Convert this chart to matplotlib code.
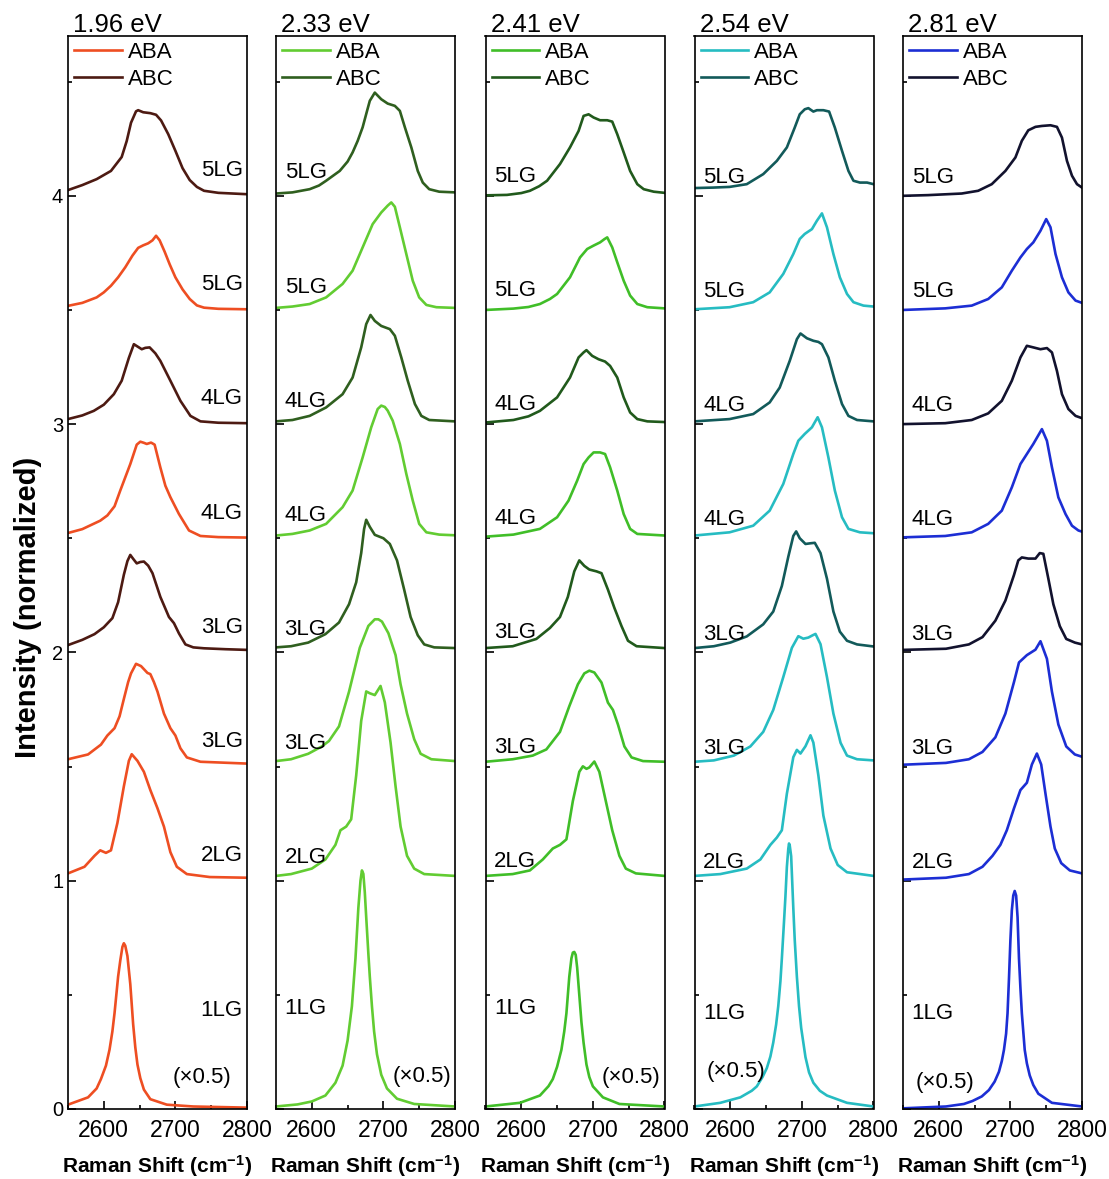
import matplotlib
matplotlib.use("Agg")
import matplotlib.pyplot as plt
from matplotlib.ticker import MultipleLocator

plt.rcParams["font.family"] = ["Liberation Sans", "DejaVu Sans"]
plt.rcParams["mathtext.default"] = "regular"

# laser energies and colours per panel
energies = ["1.96 eV", "2.33 eV", "2.41 eV", "2.54 eV", "2.81 eV"]
aba_colors = ["#EE4E22", "#62CC32", "#40BE28", "#26BCC2", "#1C2ED4"]
abc_colors = ["#4D1A12", "#2F5F1F", "#215A1C", "#125A5A", "#12122E"]

# stacking: ABA 1LG..5LG, ABC 3LG..5LG
aba_layers = ["1LG", "2LG", "3LG", "4LG", "5LG"]
aba_offsets = [0.0, 1.0, 1.5, 2.5, 3.5]
abc_layers = ["3LG", "4LG", "5LG"]
abc_offsets = [2.0, 3.0, 4.0]

# spectra: (Raman shift, intensity above own baseline)
aba_196 = [
    [(2550, 0.019), (2578, 0.051), (2590, 0.09), (2596, 0.131), (2603, 0.19), (2608, 0.26), (2612, 0.34),
     (2615, 0.42), (2620, 0.58), (2623, 0.65), (2626, 0.71), (2628, 0.726), (2630, 0.715), (2633, 0.67),
     (2637, 0.547), (2641, 0.371), (2644, 0.27), (2647, 0.195), (2651, 0.135), (2656, 0.085), (2665, 0.043),
     (2688, 0.019), (2725, 0.011), (2800, 0.006)],
    [(2550, 0.032), (2573, 0.061), (2587, 0.109), (2595, 0.133), (2603, 0.122), (2610, 0.133), (2619, 0.253),
     (2628, 0.413), (2635, 0.525), (2639, 0.554), (2647, 0.525), (2656, 0.477), (2665, 0.397), (2675, 0.317),
     (2684, 0.237), (2693, 0.125), (2702, 0.061), (2716, 0.029), (2748, 0.016), (2800, 0.013)],
    [(2550, 0.032), (2578, 0.053), (2596, 0.096), (2605, 0.136), (2615, 0.168), (2622, 0.22), (2628, 0.296),
     (2634, 0.37), (2638, 0.408), (2645, 0.45), (2652, 0.44), (2661, 0.41), (2665, 0.405), (2670, 0.37),
     (2675, 0.328), (2684, 0.232), (2693, 0.168), (2700, 0.136), (2707, 0.08), (2716, 0.04), (2735, 0.021),
     (2800, 0.013)],
    [(2550, 0.023), (2570, 0.04), (2595, 0.077), (2605, 0.10), (2615, 0.14), (2623, 0.209), (2637, 0.325),
     (2646, 0.41), (2651, 0.423), (2656, 0.418), (2660, 0.413), (2666, 0.419), (2671, 0.41), (2679, 0.31),
     (2686, 0.23), (2693, 0.18), (2705, 0.106), (2719, 0.034), (2735, 0.01), (2760, 0.005), (2800, 0.003)],
    [(2550, 0.018), (2570, 0.031), (2590, 0.055), (2600, 0.077), (2610, 0.106), (2620, 0.143), (2630, 0.187),
     (2640, 0.238), (2648, 0.272), (2655, 0.283), (2662, 0.292), (2668, 0.305), (2673, 0.325), (2678, 0.305),
     (2685, 0.255), (2692, 0.2), (2700, 0.143), (2710, 0.09), (2720, 0.048), (2730, 0.02), (2740, 0.01),
     (2760, 0.005), (2800, 0.003)],
]
abc_196 = [
    [(2550, 0.032), (2570, 0.055), (2587, 0.08), (2600, 0.11), (2612, 0.15), (2620, 0.22), (2628, 0.34),
     (2633, 0.40), (2637, 0.427), (2641, 0.41), (2646, 0.39), (2651, 0.396), (2656, 0.398), (2662, 0.38),
     (2668, 0.347), (2679, 0.243), (2691, 0.155), (2698, 0.128), (2705, 0.083), (2714, 0.035), (2725, 0.022),
     (2740, 0.018), (2770, 0.014), (2800, 0.011)],
    [(2550, 0.022), (2570, 0.038), (2586, 0.058), (2600, 0.085), (2614, 0.131), (2625, 0.19), (2635, 0.29),
     (2642, 0.35), (2647, 0.34), (2653, 0.328), (2658, 0.334), (2664, 0.336), (2672, 0.31), (2679, 0.277),
     (2693, 0.19), (2707, 0.102), (2721, 0.036), (2735, 0.012), (2760, 0.006), (2800, 0.004)],
    [(2550, 0.025), (2570, 0.047), (2590, 0.073), (2610, 0.109), (2625, 0.17), (2632, 0.24), (2638, 0.32),
     (2645, 0.37), (2648, 0.375), (2655, 0.366), (2665, 0.362), (2673, 0.355), (2680, 0.33), (2690, 0.27),
     (2700, 0.197), (2710, 0.121), (2720, 0.069), (2730, 0.039), (2740, 0.022), (2760, 0.013), (2780, 0.010),
     (2800, 0.007)],
]

aba_233 = [
    [(2550, 0.011), (2580, 0.02), (2600, 0.033), (2619, 0.059), (2633, 0.115), (2643, 0.19), (2650, 0.30),
     (2656, 0.45), (2661, 0.66), (2665, 0.88), (2668, 1.00), (2670, 1.045), (2672, 1.03), (2674, 0.95),
     (2676, 0.84), (2679, 0.68), (2681, 0.58), (2684, 0.45), (2687, 0.34), (2691, 0.24), (2697, 0.15),
     (2705, 0.09), (2719, 0.045), (2743, 0.022), (2800, 0.011)],
    [(2550, 0.021), (2571, 0.029), (2600, 0.053), (2619, 0.093), (2633, 0.157), (2640, 0.221), (2648, 0.237),
     (2655, 0.269), (2662, 0.461), (2669, 0.70), (2676, 0.829), (2681, 0.821), (2688, 0.813), (2696, 0.853),
     (2702, 0.781), (2710, 0.605), (2717, 0.413), (2724, 0.237), (2733, 0.109), (2743, 0.053), (2757, 0.029),
     (2800, 0.021)],
    [(2550, 0.024), (2571, 0.032), (2595, 0.056), (2614, 0.088), (2624, 0.112), (2638, 0.176), (2652, 0.328),
     (2667, 0.52), (2679, 0.616), (2688, 0.645), (2693, 0.645), (2698, 0.635), (2707, 0.584), (2717, 0.488),
     (2724, 0.36), (2733, 0.232), (2743, 0.12), (2752, 0.056), (2767, 0.032), (2800, 0.024)],
    [(2550, 0.012), (2573, 0.019), (2597, 0.034), (2620, 0.063), (2643, 0.136), (2657, 0.209), (2671, 0.354),
     (2683, 0.486), (2692, 0.566), (2697, 0.581), (2702, 0.575), (2706, 0.559), (2713, 0.515), (2723, 0.413),
     (2732, 0.282), (2741, 0.165), (2750, 0.063), (2760, 0.026), (2778, 0.016), (2800, 0.013)],
    [(2550, 0.009), (2573, 0.015), (2597, 0.026), (2620, 0.055), (2643, 0.114), (2657, 0.172), (2671, 0.274),
     (2685, 0.376), (2697, 0.427), (2706, 0.457), (2711, 0.471), (2716, 0.452), (2723, 0.362), (2732, 0.245),
     (2741, 0.128), (2750, 0.055), (2760, 0.022), (2774, 0.012), (2800, 0.009)],
]
abc_233 = [
    [(2550, 0.022), (2571, 0.027), (2595, 0.043), (2619, 0.08), (2638, 0.131), (2652, 0.211), (2662, 0.307),
     (2669, 0.435), (2673, 0.54), (2676, 0.581), (2681, 0.55), (2688, 0.515), (2700, 0.50), (2709, 0.475),
     (2719, 0.403), (2729, 0.275), (2738, 0.155), (2748, 0.075), (2757, 0.035), (2771, 0.022), (2800, 0.019)],
    [(2550, 0.012), (2573, 0.018), (2597, 0.036), (2620, 0.073), (2643, 0.131), (2657, 0.204), (2669, 0.336),
     (2676, 0.438), (2682, 0.478), (2688, 0.452), (2697, 0.43), (2709, 0.416), (2716, 0.387), (2725, 0.292),
     (2734, 0.19), (2744, 0.088), (2753, 0.036), (2764, 0.018), (2800, 0.012)],
    [(2550, 0.01), (2573, 0.015), (2597, 0.029), (2610, 0.045), (2620, 0.066), (2639, 0.109), (2650, 0.15),
     (2657, 0.19), (2664, 0.24), (2671, 0.30), (2677, 0.37), (2681, 0.416), (2688, 0.452), (2697, 0.423),
     (2706, 0.404), (2716, 0.394), (2723, 0.372), (2730, 0.30), (2739, 0.212), (2748, 0.109), (2755, 0.058),
     (2764, 0.029), (2778, 0.018), (2800, 0.015)],
]

aba_241 = [
    [(2550, 0.011), (2598, 0.027), (2626, 0.059), (2638, 0.10), (2644, 0.131), (2650, 0.185), (2656, 0.259),
     (2660, 0.34), (2663, 0.419), (2667, 0.579), (2670, 0.66), (2672, 0.685), (2674, 0.688), (2676, 0.675),
     (2678, 0.62), (2681, 0.50), (2684, 0.38), (2687, 0.29), (2691, 0.195), (2695, 0.14), (2700, 0.099),
     (2714, 0.051), (2737, 0.022), (2800, 0.011)],
    [(2550, 0.021), (2588, 0.029), (2612, 0.045), (2630, 0.093), (2644, 0.141), (2654, 0.157), (2663, 0.181),
     (2672, 0.349), (2681, 0.477), (2686, 0.501), (2691, 0.49), (2695, 0.496), (2702, 0.522), (2709, 0.477),
     (2718, 0.349), (2727, 0.221), (2737, 0.109), (2746, 0.053), (2760, 0.032), (2800, 0.021)],
    [(2550, 0.021), (2588, 0.032), (2616, 0.048), (2635, 0.075), (2654, 0.152), (2667, 0.264), (2679, 0.36),
     (2688, 0.408), (2695, 0.42), (2702, 0.412), (2712, 0.368), (2721, 0.28), (2728, 0.248), (2735, 0.184),
     (2744, 0.088), (2754, 0.04), (2770, 0.024), (2800, 0.021)],
    [(2550, 0.007), (2589, 0.016), (2626, 0.041), (2650, 0.092), (2666, 0.165), (2678, 0.252), (2687, 0.325),
     (2694, 0.354), (2701, 0.376), (2710, 0.376), (2717, 0.369), (2724, 0.311), (2734, 0.209), (2743, 0.106),
     (2752, 0.041), (2762, 0.019), (2800, 0.012)],
    [(2550, 0.0), (2589, 0.006), (2610, 0.013), (2626, 0.026), (2640, 0.048), (2650, 0.07), (2668, 0.143),
     (2682, 0.23), (2692, 0.267), (2701, 0.282), (2710, 0.296), (2716, 0.31), (2720, 0.318), (2727, 0.274),
     (2734, 0.209), (2743, 0.128), (2752, 0.063), (2762, 0.026), (2776, 0.012), (2800, 0.007)],
]
abc_241 = [
    [(2550, 0.019), (2588, 0.027), (2621, 0.059), (2640, 0.107), (2654, 0.155), (2665, 0.243), (2674, 0.355),
     (2681, 0.403), (2688, 0.379), (2695, 0.363), (2705, 0.355), (2712, 0.347), (2721, 0.275), (2730, 0.195),
     (2740, 0.115), (2749, 0.051), (2761, 0.027), (2800, 0.019)],
    [(2550, 0.007), (2589, 0.018), (2610, 0.034), (2626, 0.058), (2650, 0.117), (2668, 0.204), (2680, 0.292),
     (2687, 0.314), (2691, 0.324), (2699, 0.299), (2708, 0.284), (2717, 0.274), (2724, 0.255), (2734, 0.204),
     (2743, 0.117), (2752, 0.051), (2762, 0.022), (2776, 0.012), (2800, 0.009)],
    [(2550, 0.002), (2580, 0.004), (2600, 0.012), (2612, 0.022), (2625, 0.042), (2636, 0.066), (2654, 0.139),
     (2668, 0.212), (2680, 0.284), (2687, 0.35), (2694, 0.357), (2701, 0.343), (2710, 0.331), (2720, 0.331),
     (2727, 0.325), (2734, 0.27), (2743, 0.19), (2752, 0.109), (2762, 0.051), (2771, 0.029), (2785, 0.018),
     (2800, 0.013)],
]

aba_254 = [
    [(2550, 0.011), (2586, 0.027), (2614, 0.051), (2630, 0.08), (2637, 0.099), (2645, 0.14), (2651, 0.179),
     (2656, 0.23), (2660, 0.291), (2664, 0.37), (2667, 0.451), (2670, 0.56), (2672, 0.659), (2675, 0.82),
     (2677, 0.931), (2679, 1.06), (2681, 1.14), (2682, 1.163), (2683, 1.155), (2685, 1.107), (2688, 0.88),
     (2690, 0.74), (2693, 0.579), (2696, 0.45), (2699, 0.355), (2705, 0.227), (2710, 0.16), (2716, 0.115),
     (2725, 0.08), (2735, 0.059), (2763, 0.027), (2800, 0.011)],
    [(2550, 0.021), (2586, 0.029), (2623, 0.053), (2642, 0.093), (2656, 0.157), (2665, 0.189), (2672, 0.221),
     (2679, 0.381), (2688, 0.541), (2693, 0.573), (2698, 0.557), (2705, 0.589), (2712, 0.637), (2716, 0.605),
     (2723, 0.461), (2730, 0.285), (2740, 0.141), (2750, 0.069), (2763, 0.037), (2800, 0.021)],
    [(2550, 0.021), (2577, 0.027), (2605, 0.048), (2628, 0.088), (2646, 0.152), (2660, 0.248), (2674, 0.392),
     (2686, 0.52), (2695, 0.571), (2702, 0.56), (2709, 0.565), (2715, 0.575), (2719, 0.581), (2726, 0.536),
     (2735, 0.392), (2744, 0.232), (2754, 0.104), (2763, 0.048), (2777, 0.032), (2800, 0.027)],
    [(2550, 0.012), (2599, 0.026), (2632, 0.055), (2655, 0.121), (2674, 0.238), (2688, 0.369), (2695, 0.427),
     (2704, 0.457), (2714, 0.486), (2722, 0.53), (2728, 0.486), (2737, 0.354), (2746, 0.209), (2756, 0.092),
     (2765, 0.041), (2781, 0.026), (2800, 0.022)],
    [(2550, 0.003), (2599, 0.012), (2632, 0.034), (2655, 0.077), (2674, 0.158), (2688, 0.245), (2697, 0.311),
     (2704, 0.333), (2714, 0.354), (2721, 0.391), (2728, 0.423), (2735, 0.362), (2744, 0.245), (2753, 0.143),
     (2763, 0.07), (2772, 0.034), (2786, 0.019), (2800, 0.015)],
]
abc_254 = [
    [(2550, 0.019), (2577, 0.027), (2600, 0.043), (2623, 0.07), (2646, 0.123), (2660, 0.179), (2672, 0.291),
     (2681, 0.419), (2688, 0.51), (2692, 0.53), (2697, 0.50), (2705, 0.475), (2712, 0.478), (2718, 0.48),
     (2726, 0.435), (2735, 0.323), (2744, 0.179), (2753, 0.091), (2763, 0.051), (2777, 0.035), (2800, 0.026)],
    [(2550, 0.012), (2599, 0.022), (2632, 0.044), (2655, 0.095), (2669, 0.16), (2683, 0.277), (2693, 0.372),
     (2698, 0.397), (2707, 0.376), (2716, 0.365), (2723, 0.36), (2728, 0.35), (2737, 0.292), (2746, 0.19),
     (2756, 0.088), (2765, 0.036), (2777, 0.018), (2800, 0.012)],
    [(2550, 0.034), (2576, 0.036), (2599, 0.039), (2623, 0.051), (2646, 0.095), (2665, 0.153), (2679, 0.212),
     (2690, 0.299), (2697, 0.357), (2704, 0.379), (2709, 0.384), (2716, 0.369), (2721, 0.375), (2730, 0.375),
     (2738, 0.369), (2746, 0.299), (2756, 0.197), (2765, 0.109), (2772, 0.066), (2781, 0.058), (2791, 0.058),
     (2800, 0.051)],
]

aba_281 = [
    [(2550, 0.003), (2610, 0.011), (2635, 0.022), (2647, 0.035), (2660, 0.055), (2670, 0.083), (2678, 0.12),
     (2684, 0.163), (2688, 0.21), (2691, 0.259), (2694, 0.33), (2696, 0.419), (2698, 0.57), (2700, 0.739),
     (2702, 0.87), (2704, 0.935), (2706, 0.955), (2708, 0.935), (2710, 0.84), (2712, 0.659), (2714, 0.53),
     (2716, 0.419), (2720, 0.259), (2723, 0.2), (2727, 0.147), (2732, 0.105), (2739, 0.067), (2758, 0.027),
     (2800, 0.011)],
    [(2550, 0.005), (2610, 0.013), (2642, 0.029), (2661, 0.061), (2675, 0.109), (2686, 0.157), (2695, 0.221),
     (2705, 0.317), (2714, 0.397), (2723, 0.429), (2730, 0.509), (2737, 0.557), (2743, 0.509), (2749, 0.381),
     (2756, 0.237), (2762, 0.141), (2771, 0.077), (2783, 0.045), (2800, 0.032)],
    [(2550, 0.008), (2610, 0.016), (2642, 0.032), (2661, 0.064), (2679, 0.128), (2693, 0.232), (2705, 0.37),
     (2712, 0.456), (2723, 0.488), (2735, 0.512), (2742, 0.549), (2751, 0.472), (2758, 0.328), (2767, 0.184),
     (2778, 0.088), (2790, 0.053), (2800, 0.043)],
    [(2550, 0.004), (2609, 0.01), (2646, 0.026), (2669, 0.063), (2688, 0.121), (2702, 0.223), (2714, 0.325),
     (2723, 0.369), (2732, 0.413), (2744, 0.478), (2751, 0.427), (2758, 0.311), (2767, 0.179), (2777, 0.106),
     (2786, 0.055), (2795, 0.034), (2800, 0.029)],
    [(2550, 0.0), (2609, 0.007), (2646, 0.019), (2669, 0.048), (2688, 0.099), (2702, 0.172), (2714, 0.23),
     (2723, 0.267), (2732, 0.296), (2742, 0.347), (2750, 0.398), (2756, 0.362), (2763, 0.245), (2772, 0.143),
     (2781, 0.077), (2791, 0.041), (2800, 0.031)],
]
abc_281 = [
    [(2550, 0.011), (2610, 0.016), (2642, 0.035), (2661, 0.067), (2679, 0.139), (2693, 0.227), (2705, 0.339),
     (2711, 0.403), (2716, 0.416), (2725, 0.411), (2735, 0.411), (2741, 0.435), (2746, 0.432), (2753, 0.323),
     (2760, 0.211), (2769, 0.115), (2778, 0.059), (2790, 0.043), (2800, 0.035)],
    [(2550, 0.0), (2609, 0.004), (2646, 0.018), (2669, 0.047), (2688, 0.102), (2702, 0.19), (2714, 0.292),
     (2723, 0.343), (2732, 0.336), (2742, 0.328), (2751, 0.333), (2758, 0.314), (2765, 0.233), (2772, 0.131),
     (2781, 0.066), (2791, 0.036), (2800, 0.026)],
    [(2550, 0.0), (2585, 0.003), (2632, 0.01), (2655, 0.022), (2674, 0.051), (2693, 0.109), (2707, 0.168),
     (2716, 0.241), (2725, 0.287), (2735, 0.302), (2744, 0.306), (2756, 0.309), (2765, 0.302), (2772, 0.255),
     (2779, 0.153), (2786, 0.088), (2793, 0.051), (2800, 0.036)],
]

aba_sets = [aba_196, aba_233, aba_241, aba_254, aba_281]
abc_sets = [abc_196, abc_233, abc_241, abc_254, abc_281]

# label placement per panel
label_right = [True, False, False, False, False]
label_dy = [0.11, 0.10, 0.085, 0.08, 0.08]
mono_label_y = [0.43, 0.44, 0.44, 0.42, 0.42]
scale_pos = [(2778, 0.136, "right"), (2795, 0.144, "right"), (2794, 0.14, "right"),
             (2567, 0.166, "left"), (2568, 0.114, "left")]

fig = plt.figure(figsize=(11.09, 11.79), dpi=100)
lefts = [68, 276, 485.5, 694.5, 903]

for i in range(5):
    ax = fig.add_axes([lefts[i] / 1109, 70 / 1179, 179 / 1109, 1073 / 1179])
    handles = []
    for pts, off in zip(aba_sets[i], aba_offsets):
        xs, hs = zip(*pts)
        ln, = ax.plot(xs, [off + h for h in hs], color=aba_colors[i], lw=1.9)
    handles.append(ln)
    for pts, off in zip(abc_sets[i], abc_offsets):
        xs, hs = zip(*pts)
        ln, = ax.plot(xs, [off + h for h in hs], color=abc_colors[i], lw=1.9)
    handles.append(ln)

    ax.set_xlim(2550, 2800)
    ax.set_ylim(0, 4.7)
    ax.xaxis.set_major_locator(MultipleLocator(100))
    ax.xaxis.set_minor_locator(MultipleLocator(50))
    ax.yaxis.set_major_locator(MultipleLocator(1))
    ax.yaxis.set_minor_locator(MultipleLocator(0.5))
    ax.tick_params(which="both", direction="in", top=False, right=False, width=1.2)
    ax.tick_params(which="major", length=6)
    ax.tick_params(which="minor", length=3)
    ax.tick_params(axis="x", pad=7, labelsize=16.5)
    ax.tick_params(axis="y", labelsize=14.5)
    if i > 0:
        ax.tick_params(axis="y", labelleft=False)
    for sp in ax.spines.values():
        sp.set_linewidth(1.2)

    ax.set_xlabel("Raman Shift (cm$^{-1}$)", fontsize=15, fontweight="bold", labelpad=8)
    ax.text(0.03, 0.999, energies[i], transform=ax.transAxes, fontsize=18.5, ha="left", va="bottom")

    ax.legend(handles, ["ABA", "ABC"], loc="upper left", frameon=False, fontsize=16,
              handlelength=2.15, handletextpad=0.27, borderaxespad=0.0, borderpad=0.27, labelspacing=0.27)

    # layer labels
    lx, ha = (2794, "right") if label_right[i] else (2562, "left")
    for lab, off in zip(aba_layers[1:], aba_offsets[1:]):
        ax.text(lx, off + label_dy[i], lab, fontsize=16, ha=ha, va="center")
    for lab, off in zip(abc_layers, abc_offsets):
        ax.text(lx, off + label_dy[i], lab, fontsize=16, ha=ha, va="center")
    ax.text(lx, mono_label_y[i], aba_layers[0], fontsize=16, ha=ha, va="center")
    sx, sy, sha = scale_pos[i]
    ax.text(sx, sy, "(\u00d70.5)", fontsize=16, ha=sha, va="center")

fig.text(28 / 1109, 1 - 607 / 1179, "Intensity (normalized)", rotation=90, fontsize=21,
         fontweight="bold", ha="center", va="center")

fig.savefig("out.png", dpi=100)
